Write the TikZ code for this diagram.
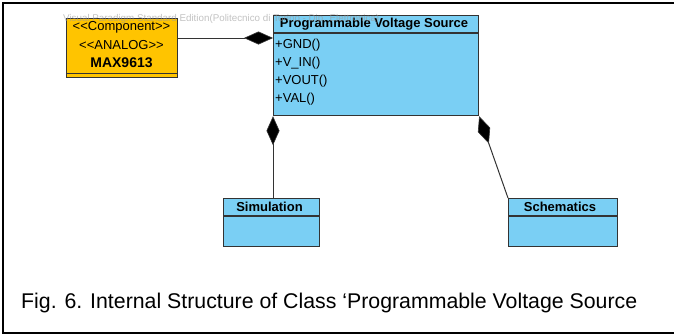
\documentclass[tikz,border=0pt]{standalone}
\usepackage{fontspec}
\setmainfont{Liberation Sans}
\usetikzlibrary{arrows.meta}
\definecolor{compyellow}{HTML}{FFC400}
\definecolor{classblue}{HTML}{7ACFF4}
\definecolor{edge}{HTML}{333333}
\tikzset{
  box/.style={draw=edge, line width=1.2pt, inner sep=0pt, anchor=north west},
  compbox/.style={box, fill=compyellow},
  classbox/.style={box, fill=classblue},
  label/.style={inner sep=0pt, font=\fontsize{13}{15}\selectfont},
  title/.style={label, font=\fontsize{13}{15}\selectfont\bfseries},
  member/.style={label, anchor=west},
  divider/.style={draw=edge, line width=1.2pt},
  composition/.style={draw=edge, line width=1pt,
    {Diamond[length=29pt, width=13pt, fill=black, line width=0.6pt]}-},
}
\newcommand{\lt}{{<}}
\newcommand{\gt}{{>}}
\begin{document}
\begin{tikzpicture}[x=1pt, y=-1pt]
  \useasboundingbox (0,0) rectangle (674,335);
  % outer frame (open on the right)
  \draw[line width=2pt] (690,3) -- (3,3) -- (3,333) -- (690,333);

  % component MAX9613
  \node[compbox, minimum width=111pt, minimum height=59pt] (max) at (66,18) {};
  \draw[divider] ([yshift=5pt]max.south west) -- ([yshift=5pt]max.south east);
  \node[label] (maxst1) at (121.5,27.5) {\lt\lt Component\gt\gt};
  \node[label] (maxst2) at (121.5,45) {\lt\lt ANALOG\gt\gt};
  \node[title, font=\fontsize{14}{16}\selectfont\bfseries] (maxname) at (121.5,63) {MAX9613};

  % class Programmable Voltage Source
  \node[classbox, minimum width=205pt, minimum height=100pt] (pvs) at (273,15) {};
  \draw[divider] ([yshift=-18pt]pvs.north west) -- ([yshift=-18pt]pvs.north east);
  \node[title] (pvsname) at (374,24.5) {Programmable Voltage Source};
  \node[member] (gnd) at (275,45.5) {+GND()};
  \node[member] (vin) at (275,63.5) {+V\_IN()};
  \node[member] (vout) at (275,81.5) {+VOUT()};
  \node[member] (val) at (275,99.5) {+VAL()};

  % class Simulation
  \node[classbox, minimum width=96pt, minimum height=48pt] (sim) at (223,198) {};
  \draw[divider] ([yshift=-18pt]sim.north west) -- ([yshift=-18pt]sim.north east);
  \node[title] (simname) at (269.5,207) {Simulation};

  % class Schematics
  \node[classbox, minimum width=109pt, minimum height=48pt] (sch) at (508,198) {};
  \draw[divider] ([yshift=-18pt]sch.north west) -- ([yshift=-18pt]sch.north east);
  \node[title] (schname) at (560,207) {Schematics};

  % composition links
  \draw[composition] (pvs.west |- 0,38) -- (max.east |- 0,38);
  \draw[composition] (pvs.south west) -- (pvs.south west |- sim.north);
  \draw[composition] (pvs.south east) -- (sch.north west);

  % tool watermark
  \node[inner sep=0pt, anchor=west, text=black!40, opacity=0.6,
        font=\fontsize{9.8}{11}\selectfont] (wm) at (63,19)
        {Visual Paradigm Standard Edition(Politecnico di Torino - Dip. Elettronica)};

  % caption
  \node[inner sep=0pt, anchor=west, font=\fontsize{21.3}{25}\selectfont] (caption)
        at (21,303) {Fig. 6. Internal Structure of Class ‘Programmable Voltage Source};
\end{tikzpicture}
\end{document}
